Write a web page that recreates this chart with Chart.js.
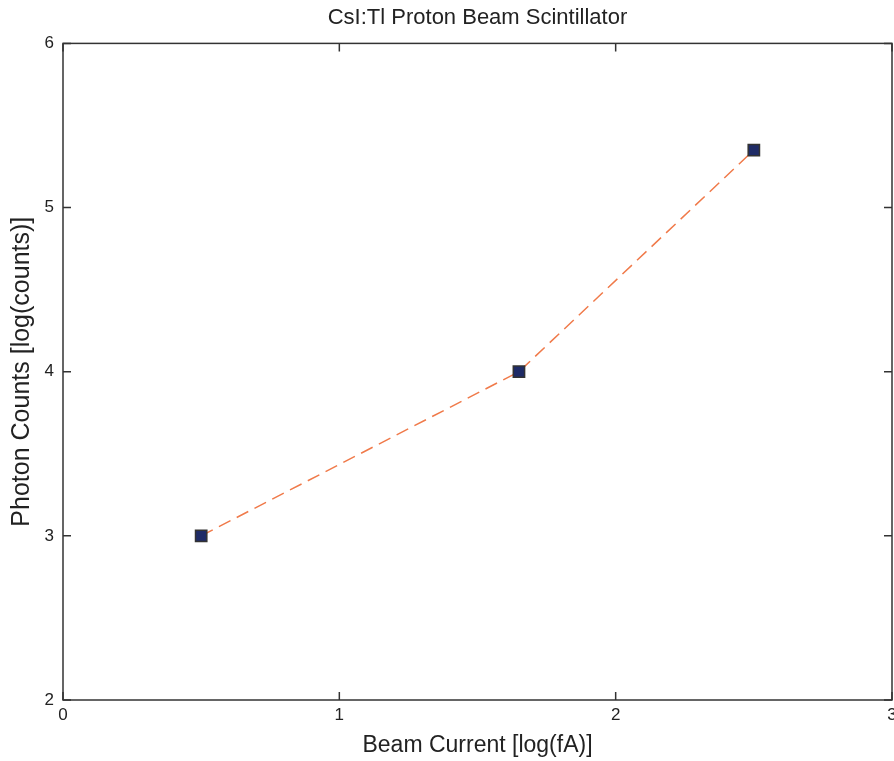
<!DOCTYPE html>
<html>
<head>
<meta charset="utf-8">
<script src="https://cdn.jsdelivr.net/npm/chart.js@4.4.1/dist/chart.umd.min.js"></script>
<style>
  body { margin: 0; overflow: hidden; background: #fff; }
  #wrap { width: 944px; height: 761px; }
</style>
</head>
<body>
<div id="wrap"><canvas id="chart"></canvas></div>
<script>
const beamCurrent = [0.5, 1.65, 2.5];
const photonCounts = [3, 4, 5.35];
const xTicks = [0, 1, 2, 3];
const yTicks = [2, 3, 4, 5, 6];

const points = beamCurrent.map((x, i) => ({ x: x, y: photonCounts[i] }));

// matlab style box with inward ticks
const boxTicks = {
    id: 'boxTicks',
    afterDatasetsDraw(chart) {
        const { ctx, chartArea: a, scales: { x, y } } = chart;
        const len = 8;
        ctx.save();
        ctx.strokeStyle = '#333';
        ctx.lineWidth = 1.5;
        ctx.strokeRect(a.left, a.top, a.right - a.left, a.bottom - a.top);
        ctx.beginPath();
        xTicks.forEach(v => {
            const px = x.getPixelForValue(v);
            ctx.moveTo(px, a.bottom); ctx.lineTo(px, a.bottom - len);
            ctx.moveTo(px, a.top); ctx.lineTo(px, a.top + len);
        });
        yTicks.forEach(v => {
            const py = y.getPixelForValue(v);
            ctx.moveTo(a.left, py); ctx.lineTo(a.left + len, py);
            ctx.moveTo(a.right, py); ctx.lineTo(a.right - len, py);
        });
        ctx.stroke();
        ctx.restore();
    }
};

new Chart(document.getElementById('chart'), {
    type: 'scatter',
    data: {
        datasets: [{
            data: points,
            showLine: true,
            borderColor: '#f07a4a',
            borderWidth: 1.5,
            borderDash: [13, 7],
            pointStyle: 'rect',
            pointRadius: 8,
            pointBackgroundColor: '#1f2b66',
            pointBorderColor: '#333',
            pointBorderWidth: 1.5
        }]
    },
    options: {
        responsive: true,
        maintainAspectRatio: false,
        animation: false,
        layout: { padding: { left: 0, right: 52, top: 0, bottom: 0 } },
        plugins: {
            legend: { display: false },
            tooltip: { enabled: false },
            title: {
                display: true,
                fullSize: false,
                text: 'CsI:Tl Proton Beam Scintillator',
                color: '#222',
                font: { family: 'Liberation Sans', size: 22, weight: 'normal' },
                padding: { top: 5, bottom: 12 }
            }
        },
        scales: {
            x: {
                type: 'linear',
                min: 0, max: 3,
                afterBuildTicks: s => { s.ticks = xTicks.map(v => ({ value: v })); },
                afterFit: s => { s.height = 61; },
                grid: { display: false, drawTicks: false },
                border: { display: false },
                ticks: {
                    color: '#222', padding: 5,
                    font: { family: 'Liberation Sans', size: 17 }
                },
                title: {
                    display: true,
                    text: 'Beam Current [log(fA)]',
                    color: '#222',
                    font: { family: 'Liberation Sans', size: 23 },
                    padding: { top: 0, bottom: 2 }
                }
            },
            y: {
                type: 'linear',
                min: 2, max: 6,
                afterBuildTicks: s => { s.ticks = yTicks.map(v => ({ value: v })); },
                afterFit: s => { s.width = 63; },
                grid: { display: false, drawTicks: false },
                border: { display: false },
                ticks: {
                    color: '#222', padding: 9,
                    font: { family: 'Liberation Sans', size: 17 }
                },
                title: {
                    display: true,
                    text: 'Photon Counts [log(counts)]',
                    color: '#222',
                    font: { family: 'Liberation Sans', size: 25 },
                    padding: { top: 7, bottom: 0 }
                }
            }
        }
    },
    plugins: [boxTicks]
});
</script>
</body>
</html>
